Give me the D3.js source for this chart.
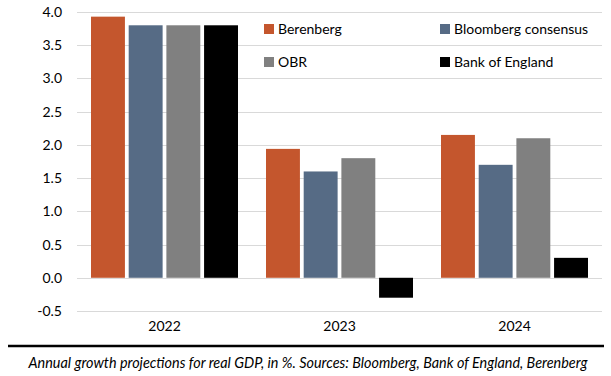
<!DOCTYPE html>
<html>
<head>
<meta charset="utf-8">
<script src="https://cdn.jsdelivr.net/npm/d3@7"></script>
<style>
body { margin: 0; background: #fff; }
text { font-family: Lato, "Open Sans", sans-serif; }
</style>
</head>
<body>
<script>
var years = ["2022", "2023", "2024"];
var seriesNames = ["Berenberg", "Bloomberg consensus", "OBR", "Bank of England"];
var berenberg = [3.93, 1.94, 2.15];
var bloomberg = [3.8, 1.6, 1.7];
var obr = [3.8, 1.8, 2.1];
var boe = [3.8, -0.3, 0.3];
var colors = ["#c4562d", "#566b85", "#808080", "#000000"];
var yTicks = [-0.5, 0, 0.5, 1, 1.5, 2, 2.5, 3, 3.5, 4];

var w = 611, h = 376;
var allSeries = [berenberg, bloomberg, obr, boe];

var svg = d3.select("body").append("svg")
	.attr("width", w)
	.attr("height", h);

var yScale = d3.scaleLinear()
	.domain([-0.5, 4])
	.range([311, 12]);

var xScale = d3.scaleBand()
	.domain(years)
	.range([77, 602]);

var inner = d3.scaleBand()
	.domain(d3.range(4))
	.range([14, xScale.bandwidth() - 14])
	.paddingInner(0.1);

// gridlines
svg.append("g")
	.selectAll("line")
	.data(yTicks)
	.enter()
	.append("line")
	.attr("x1", 77)
	.attr("x2", 602)
	.attr("y1", d => Math.round(yScale(d)) + 0.5)
	.attr("y2", d => Math.round(yScale(d)) + 0.5)
	.attr("stroke", "#d9d9d9")
	.attr("stroke-width", 1);

var yAxis = d3.axisLeft(yScale)
	.tickValues(yTicks)
	.tickFormat(d => d3.format(".1f")(d).replace("\u2212", "-"))
	.tickSize(0)
	.tickPadding(0);

svg.append("g")
	.attr("transform", "translate(62,0)")
	.call(yAxis)
	.call(g => g.select(".domain").remove())
	.selectAll("text")
	.attr("font-size", 14)
	.attr("fill", "#000")
	.style("font-family", "Lato, sans-serif");

// bars
allSeries.forEach(function(vals, si){
	svg.append("g")
		.selectAll("rect")
		.data(vals)
		.enter()
		.append("rect")
		.attr("x", (d, i) => xScale(years[i]) + inner(si))
		.attr("width", inner.bandwidth())
		.attr("y", d => yScale(Math.max(0, d)))
		.attr("height", d => Math.abs(yScale(d) - yScale(0)))
		.attr("fill", colors[si]);
});

// category labels
var xAxis = d3.axisBottom(xScale).tickSize(0).tickPadding(0);
svg.append("g")
	.attr("transform", "translate(0,321)")
	.call(xAxis)
	.call(g => g.select(".domain").remove())
	.selectAll("text")
	.attr("font-size", 14)
	.attr("fill", "#000")
	.style("font-family", "Lato, sans-serif");

// legend
var legendPos = [[264, 29], [440, 29], [264, 62], [440, 62]];
seriesNames.forEach(function(name, i){
	var g = svg.append("g")
		.attr("transform", "translate(" + legendPos[i][0] + "," + legendPos[i][1] + ")");
	g.append("rect")
		.attr("x", 0)
		.attr("y", -5)
		.attr("width", 10)
		.attr("height", 10)
		.attr("fill", colors[i]);
	g.append("text")
		.attr("x", 14)
		.attr("y", 0)
		.attr("dy", "0.35em")
		.attr("font-size", 14)
		.text(name);
});

// bottom rule
svg.append("line")
	.attr("x1", 8)
	.attr("x2", 604)
	.attr("y1", 346)
	.attr("y2", 346)
	.attr("stroke", "#000")
	.attr("stroke-width", 2.5);

svg.append("text")
	.attr("x", 308)
	.attr("y", 368)
	.attr("text-anchor", "middle")
	.attr("font-size", 14.4)
	.attr("font-style", "italic")
	.text("Annual growth projections for real GDP, in %. Sources: Bloomberg, Bank of England, Berenberg");
</script>
</body>
</html>
